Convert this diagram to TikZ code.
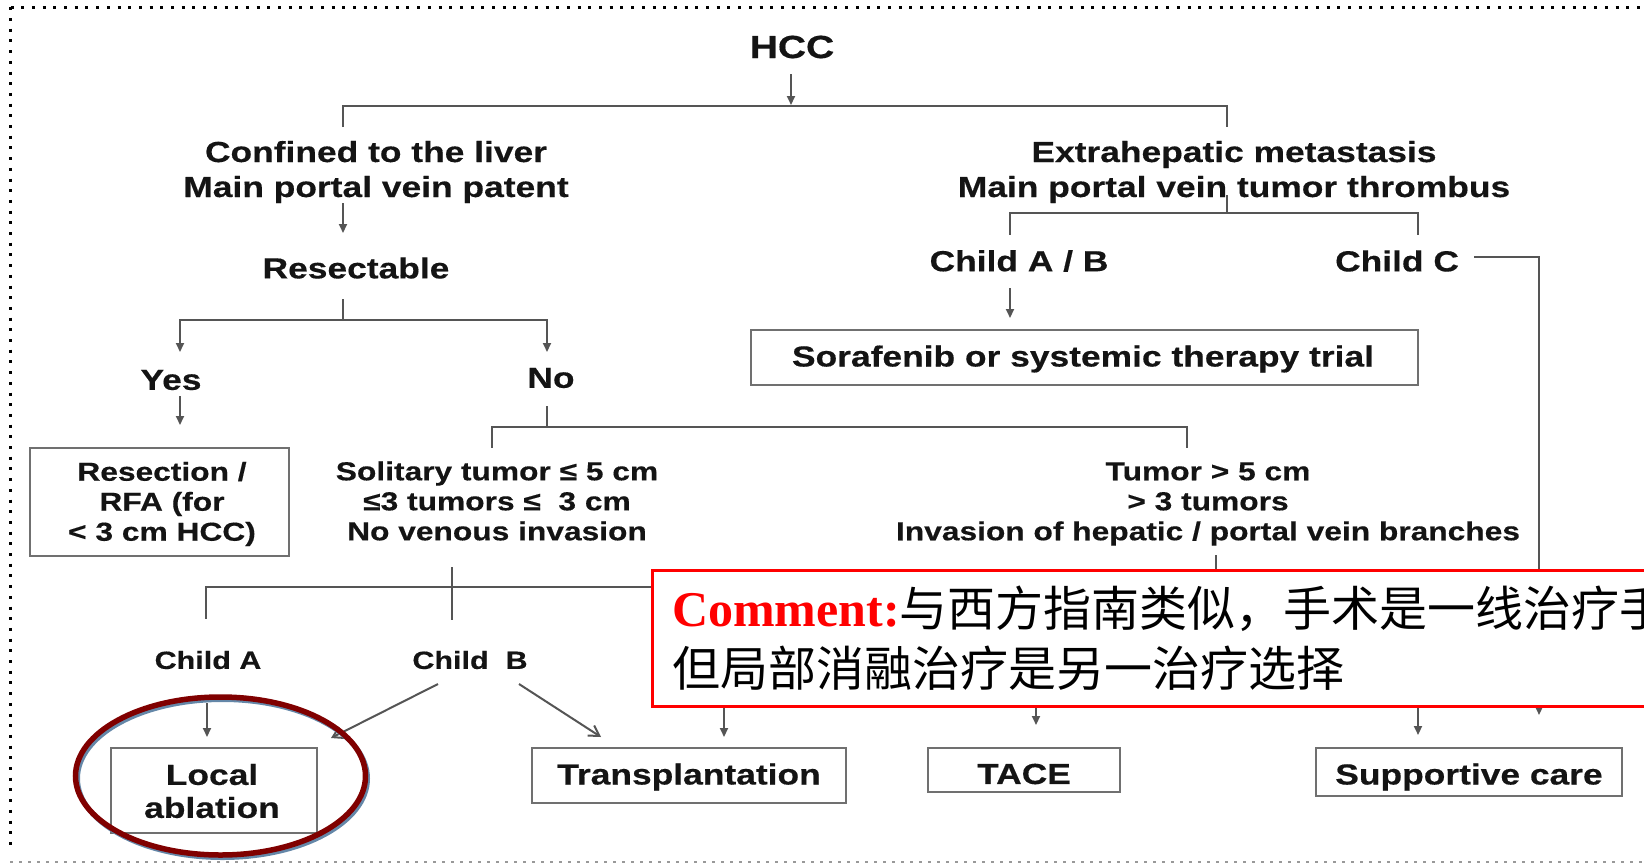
\documentclass[tikz,border=0pt]{standalone}
\usepackage{fontspec}
\usetikzlibrary{arrows.meta}
\newfontfamily\hv{Liberation Sans}[FakeStretch=1.22, FakeBold=0.4]
\newfontfamily\cjk{Noto Sans CJK SC}
\newfontfamily\tnr{Liberation Serif}
\definecolor{ink}{HTML}{141414}
\definecolor{wire}{HTML}{555555}
\definecolor{frame}{HTML}{707070}
\definecolor{ringred}{HTML}{800000}
\definecolor{ringshade}{HTML}{6487A8}

\begin{document}
\begin{tikzpicture}[x=1pt,y=-1pt,
  lbl/.style={font=\hv\bfseries\fontsize{29}{35}\selectfont, text=ink, inner sep=0pt, align=center},
  lblsm/.style={lbl, font=\hv\bfseries\fontsize{26}{30}\selectfont},
  lblch/.style={lbl, font=\hv\bfseries\fontsize{25}{30}\selectfont},
  boxed/.style={draw=frame, line width=2.5pt, fill=white, inner sep=0pt},
  wire/.style={draw=wire, line width=2pt},
  flow/.style={wire, -{Triangle[length=9pt,width=8pt]}},
  openflow/.style={wire, -{Straight Barb[length=10pt,width=12pt]}},
]
\useasboundingbox (0,0) rectangle (1644,863);
\clip (0,0) rectangle (1644,863);

% frame of the slide area
\draw[line width=3pt, dash pattern=on 3pt off 7.7pt] (10.5,7.3) -- (1644,7.3);
\draw[line width=3pt, dash pattern=on 3pt off 7.7pt] (10.5,7.3) -- (10.5,852);
\draw[black!40, line width=1.5pt, dash pattern=on 3pt off 6pt] (10,862) -- (1644,862);

% ---------- boxes ----------
\node[boxed, minimum width=667pt, minimum height=55pt] (sora) at (1084.5,357.5) {};
\node[boxed, minimum width=259pt, minimum height=108pt] (resbox) at (159.5,502) {};
\node[boxed, minimum width=206pt, minimum height=85pt] (local) at (214,790.5) {};
\node[boxed, minimum width=314pt, minimum height=55pt] (trans) at (689,775.5) {};
\node[boxed, minimum width=192pt, minimum height=44pt] (tace) at (1024,770) {};
\node[boxed, minimum width=306pt, minimum height=48pt] (supp) at (1469,772) {};

% ---------- labels ----------
\node[lbl, font=\hv\bfseries\fontsize{32}{36}\selectfont] (hcc) at (792,47) {HCC};
\node[lbl] (conf) at (376,172) {Confined to the liver\\Main portal vein patent};
\node[lbl] (extra) at (1234,172) {Extrahepatic metastasis\\Main portal vein tumor thrombus};
\node[lbl] (resect) at (356,268) {Resectable};
\node[lbl] (yes) at (171,380) {Yes};
\node[lbl] (no) at (551,378) {No};
\node[lbl] (cab) at (1019,261) {Child A / B};
\node[lbl] (cc) at (1397,261) {Child C};
\node[lbl] (soratext) at (1083,359) {Sorafenib or systemic therapy trial};

\node[lblsm] (restext) at (162,504) {Resection /\\RFA (for\\< 3 cm HCC)};
\node[lblsm] (sol) at (497,501) {Solitary tumor ≤ 5 cm\\≤3 tumors ≤\ \ 3 cm\\No venous invasion};
\node[lblsm] (big) at (1208,504) {Tumor > 5 cm\\> 3 tumors\\Invasion of hepatic / portal vein branches};

\node[lblch] (chA) at (208,660) {Child A};
\node[lblch] (chB) at (470,660) {Child\ \ B};

\node[lbl, font=\hv\bfseries\fontsize{29}{33}\selectfont] (localtext) at (212,791) {Local\\ablation};
\node[lbl] (transtext) at (689,777) {Transplantation};
\node[lbl] (tacetext) at (1024,774) {TACE};
\node[lbl] (supptext) at (1469,777) {Supportive care};

% ---------- junction points ----------
\coordinate (hccA) at (791,74);   \coordinate (hccB) at (791,105);
\coordinate (splitLd) at (343,127); \coordinate (splitR) at (1227,106); \coordinate (splitRd) at (1227,127);
\coordinate (confA) at (343,203); \coordinate (confB) at (343,233);
\coordinate (resA) at (343,299);  \coordinate (resJ) at (343,320);
\coordinate (yesT) at (180,352);  \coordinate (noT) at (547,352);
\coordinate (yesA) at (180,396);  \coordinate (yesB) at (180,425);
\coordinate (noA) at (547,406);   \coordinate (noJ) at (547,427);
\coordinate (solT) at (492,448);  \coordinate (bigT) at (1187,448);
\coordinate (exA) at (1227,195);  \coordinate (exJ) at (1227,213);
\coordinate (cabT) at (1010,235); \coordinate (ccT) at (1418,235);
\coordinate (cabA) at (1010,288); \coordinate (cabB) at (1010,318);
\coordinate (ccR) at (1474,257);  \coordinate (ccEnd) at (1539,715);
\coordinate (solA) at (452,567);  \coordinate (solB) at (452,620); \coordinate (solJ) at (452,587);
\coordinate (chAT) at (206,619);  \coordinate (trEnd) at (724,737);
\coordinate (bigA) at (1216,555); \coordinate (bigB) at (1216,600);
\coordinate (taceA) at (1036,650); \coordinate (taceB) at (1036,725);
\coordinate (suppA) at (1418,650); \coordinate (suppB) at (1418,735);
\coordinate (chAA) at (207,703);  \coordinate (chAB) at (207,737);
\coordinate (chBL) at (438,684);  \coordinate (chBLe) at (331,738);
\coordinate (chBR) at (519,684);  \coordinate (chBRe) at (601,737);

% ---------- connectors ----------
\draw[flow] (hccA) -- (hccB);
\draw[wire] (splitLd) |- (splitR) -- (splitRd);
\draw[flow] (confA) -- (confB);
\draw[wire] (resA) -- (resJ);
\draw[flow] (resJ) -| (yesT);
\draw[flow] (resJ) -| (noT);
\draw[flow] (yesA) -- (yesB);
\draw[wire] (noA) -- (noJ);
\draw[wire] (noJ) -| (solT);
\draw[wire] (noJ) -| (bigT);
\draw[wire] (exA) -- (exJ);
\draw[wire] (exJ) -| (cabT);
\draw[wire] (exJ) -| (ccT);
\draw[flow] (cabA) -- (cabB);
\draw[flow] (ccR) -| (ccEnd);
\draw[wire] (solA) -- (solB);
\draw[wire] (solJ) -| (chAT);
\draw[flow] (solJ) -| (trEnd);
\draw[wire] (bigA) -- (bigB);
\draw[flow] (taceA) -- (taceB);
\draw[flow] (suppA) -- (suppB);
\draw[flow] (chAA) -- (chAB);
\draw[openflow] (chBL) -- (chBLe);
\draw[openflow] (chBR) -- (chBRe);

% ---------- comment call-out ----------
\node[draw=red, line width=3pt, fill=white, minimum width=1100pt, minimum height=136pt,
      anchor=north west, inner sep=0pt] (cbox) at (651,569) {};
\node[anchor=base west, inner sep=0pt] (cline1) at (672,626)
  {{\tnr\bfseries\color{red}\fontsize{50}{60}\selectfont Comment:}{\cjk\fontsize{48}{60}\selectfont 与西方指南类似，手术是一线治疗手}};
\node[anchor=base west, inner sep=0pt] (cline2) at (672,686)
  {\cjk\fontsize{48}{60}\selectfont 但局部消融治疗是另一治疗选择};

% ---------- highlight ring ----------
\draw[ringshade, line width=5pt] (222.5,778.5) ellipse [x radius=145, y radius=79];
\draw[ringred, line width=5.5pt] (220.5,776) ellipse [x radius=145, y radius=79];
\end{tikzpicture}
\end{document}
